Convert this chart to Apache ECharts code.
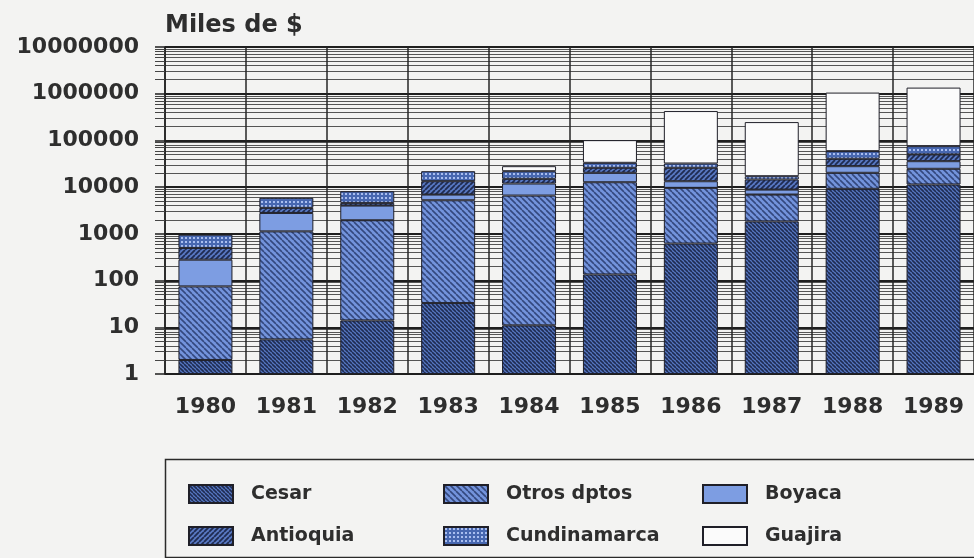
<!DOCTYPE html>
<html>
<head>
<meta charset="utf-8">
<title>Miles de $</title>
<script src="https://cdn.jsdelivr.net/npm/echarts@6/dist/echarts.min.js"></script>
<style>
  html, body { margin: 0; padding: 0; background: #f3f3f2; }
  #chart { width: 974px; height: 558px; }
</style>
</head>
<body>
<div id="chart"></div>
<script>
// valores por segmento (miles de $)
const years = ['1980', '1981', '1982', '1983', '1984', '1985', '1986', '1987', '1988', '1989']
const cesar = [2, 5.5, 14, 33, 11, 135, 620, 1850, 9200, 11400]
const otros = [73, 1125, 1940, 5200, 6590, 12600, 9040, 5090, 11070, 13300]
const boyaca = [205, 1670, 2080, 1710, 5350, 7530, 3730, 1930, 7830, 11250]
const antioquia = [220, 800, 570, 6460, 3120, 5680, 12560, 5690, 12400, 14150]
const cundinamarca = [460, 2300, 3570, 8550, 6880, 7250, 6140, 2580, 18400, 25400]
const guajira = [null, null, null, null, 6150, 68300, 393300, 229900, 998100, 1276500]

const FONT = 'DejaVu Sans'
const INK = '#2e2e2e'

// tramas para imitar el rayado del original
function hatch(bg, line, size, dir, width) {
  const c = document.createElement('canvas')
  c.width = size
  c.height = size
  const ctx = c.getContext('2d')
  ctx.fillStyle = bg
  ctx.fillRect(0, 0, size, size)
  ctx.strokeStyle = line
  ctx.lineWidth = width
  ctx.beginPath()
  for (let i = -1; i <= 1; i++) {
    if (dir === '\\') {
      ctx.moveTo(i * size, 0)
      ctx.lineTo(i * size + size, size)
    } else {
      ctx.moveTo(i * size, size)
      ctx.lineTo(i * size + size, 0)
    }
  }
  ctx.stroke()
  return { image: c, repeat: 'repeat' }
}

function dots(bg, dot, size) {
  const c = document.createElement('canvas')
  c.width = size
  c.height = size
  const ctx = c.getContext('2d')
  ctx.fillStyle = bg
  ctx.fillRect(0, 0, size, size)
  ctx.fillStyle = dot
  ctx.fillRect(1, 1, 2, 2)
  return { image: c, repeat: 'repeat' }
}

const fills = {
  cesar: hatch('#5677c2', '#1f2c52', 4, '\\', 1.6),
  otros: hatch('#7393dc', '#34487e', 6, '\\', 1.6),
  boyaca: '#7d9de2',
  antioquia: hatch('#5878c2', '#1f2c52', 5, '/', 1.8),
  cundinamarca: dots('#4767b0', '#a9bef0', 4),
  guajira: '#fbfbfb'
}

function barSeries(name, data, fill) {
  return {
    name: name,
    type: 'bar',
    stack: 'total',
    barWidth: 54,
    data: data,
    itemStyle: { color: fill, borderColor: '#1f1f28', borderWidth: 1 }
  }
}

const chart = echarts.init(document.getElementById('chart'))

const legendBase = {
  orient: 'vertical',
  top: 479,
  icon: 'rect',
  itemWidth: 44,
  itemHeight: 18,
  itemGap: 22,
  selectedMode: false,
  textStyle: {
    fontFamily: FONT,
    fontWeight: 'bold',
    fontSize: 19,
    color: INK,
    padding: [0, 0, 0, 13]
  }
}

chart.setOption({
  animation: false,
  backgroundColor: '#f3f3f2',
  title: {
    text: 'Miles de $',
    left: 160,
    top: 9,
    textStyle: { fontFamily: FONT, fontWeight: 'bold', fontSize: 24, color: INK }
  },
  legend: [
    Object.assign({}, legendBase, { left: 183, data: ['Cesar', 'Antioquia'] }),
    Object.assign({}, legendBase, { left: 438, data: ['Otros dptos', 'Cundinamarca'] }),
    Object.assign({}, legendBase, { left: 697, data: ['Boyaca', 'Guajira'] })
  ],
  graphic: [
    {
      type: 'rect',
      left: 163,
      top: 457,
      shape: { width: 830, height: 98 },
      style: { fill: 'none', stroke: '#2a2a2a', lineWidth: 1.5 },
      silent: true
    }
  ],
  grid: {
    left: 165,
    right: -6,
    top: 47,
    bottom: 184
  },
  xAxis: {
    type: 'category',
    data: years,
    axisLine: { lineStyle: { color: '#1f1f1f', width: 1.5 } },
    axisTick: { alignWithLabel: true, length: 12, lineStyle: { color: '#1f1f1f', width: 1.2 } },
    axisLabel: {
      margin: 22,
      fontFamily: FONT,
      fontWeight: 'bold',
      fontSize: 22,
      color: INK
    },
    splitLine: { show: true, lineStyle: { color: '#262626', width: 1.5 } }
  },
  yAxis: {
    type: 'log',
    logBase: 10,
    min: 1,
    max: 10000000,
    interval: 1,
    axisLine: { show: true, lineStyle: { color: '#1f1f1f', width: 1.5 } },
    axisTick: { show: true, length: 10, lineStyle: { color: '#1f1f1f', width: 1.5 } },
    minorTick: { show: true, splitNumber: 9, length: 10, lineStyle: { color: '#444', width: 1 } },
    axisLabel: {
      margin: 26,
      fontFamily: FONT,
      fontWeight: 'bold',
      fontSize: 22,
      color: INK,
      formatter: v => String(Math.round(v))
    },
    splitLine: { show: true, lineStyle: { color: '#1f1f1f', width: 2 } },
    minorSplitLine: { show: true, lineStyle: { color: '#555', width: 1 } }
  },
  series: [
    barSeries('Cesar', cesar, fills.cesar),
    barSeries('Otros dptos', otros, fills.otros),
    barSeries('Boyaca', boyaca, fills.boyaca),
    barSeries('Antioquia', antioquia, fills.antioquia),
    barSeries('Cundinamarca', cundinamarca, fills.cundinamarca),
    barSeries('Guajira', guajira, fills.guajira)
  ]
})
</script>
</body>
</html>
